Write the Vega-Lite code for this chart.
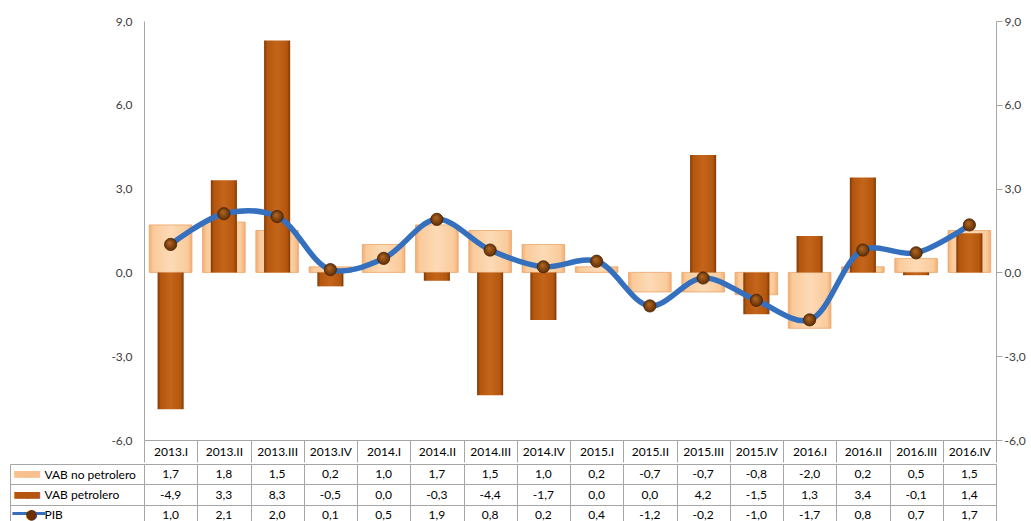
{
  "$schema": "https://vega.github.io/schema/vega-lite/v6.json",
  "padding": {"left": 9, "top": 15, "right": 5, "bottom": 0},
  "spacing": 0,
  "config": {
    "view": {"stroke": null},
    "font": "Lato",
    "locale": {"number": {"decimal": ",", "thousands": ".", "grouping": [3], "currency": ["", ""], "minus": "-"}},
    "axis": {"labelFont": "Lato", "labelFontSize": 11, "labelColor": "#404040", "domainColor": "#A6A6A6", "tickColor": "#A6A6A6", "gridColor": "#A6A6A6"}
  },
  "data": {"values": [
    {"q": "2013.I", "nopet": 1.7, "pet": -4.9, "pib": 1.0},
    {"q": "2013.II", "nopet": 1.8, "pet": 3.3, "pib": 2.1},
    {"q": "2013.III", "nopet": 1.5, "pet": 8.3, "pib": 2.0},
    {"q": "2013.IV", "nopet": 0.2, "pet": -0.5, "pib": 0.1},
    {"q": "2014.I", "nopet": 1.0, "pet": 0.0, "pib": 0.5},
    {"q": "2014.II", "nopet": 1.7, "pet": -0.3, "pib": 1.9},
    {"q": "2014.III", "nopet": 1.5, "pet": -4.4, "pib": 0.8},
    {"q": "2014.IV", "nopet": 1.0, "pet": -1.7, "pib": 0.2},
    {"q": "2015.I", "nopet": 0.2, "pet": 0.0, "pib": 0.4},
    {"q": "2015.II", "nopet": -0.7, "pet": 0.0, "pib": -1.2},
    {"q": "2015.III", "nopet": -0.7, "pet": 4.2, "pib": -0.2},
    {"q": "2015.IV", "nopet": -0.8, "pet": -1.5, "pib": -1.0},
    {"q": "2016.I", "nopet": -2.0, "pet": 1.3, "pib": -1.7},
    {"q": "2016.II", "nopet": 0.2, "pet": 3.4, "pib": 0.8},
    {"q": "2016.III", "nopet": 0.5, "pet": -0.1, "pib": 0.7},
    {"q": "2016.IV", "nopet": 1.5, "pet": 1.4, "pib": 1.7}
  ]},
  "vconcat": [
    {
      "width": 852,
      "height": 419,
      "layer": [
        {
          "encoding": {
            "x": {"field": "q", "type": "ordinal", "sort": null, "scale": {"type": "band", "paddingInner": 0, "paddingOuter": 0},
              "axis": {"orient": "bottom", "title": null, "labelAngle": 0, "tickBand": "extent", "tickSize": 22, "labelPadding": -11, "labelBaseline": "middle", "labelColor": "#000000", "labelFontSize": 12}}
          },
          "layer": [
            {
              "mark": {"type": "rule", "color": "#BFBFBF", "strokeWidth": 1},
              "encoding": {"y": {"datum": 0, "type": "quantitative", "scale": {"domain": [-6, 9], "nice": false, "zero": false},
                "axis": {"orient": "left", "title": null, "values": [-6, -3, 0, 3, 6, 9], "format": ".1f", "ticks": false, "labelPadding": 12, "labelFontSize": 12}}}
            },
            {
              "mark": {"type": "bar", "width": {"band": 0.8}, "stroke": "#EBA468", "strokeWidth": 0.8,
                "fill": {"gradient": "linear", "x1": 0, "x2": 1, "y1": 0, "y2": 0, "stops": [
                  {"offset": 0, "color": "#F2AE74"}, {"offset": 0.1, "color": "#FACB9B"}, {"offset": 0.5, "color": "#FDDAB6"}, {"offset": 0.9, "color": "#FACB9B"}, {"offset": 1, "color": "#F2AE74"}]}},
              "encoding": {"y": {"field": "nopet", "type": "quantitative"}}
            },
            {
              "mark": {"type": "bar", "width": {"band": 0.49}, "strokeWidth": 0,
                "fill": {"gradient": "linear", "x1": 0, "x2": 1, "y1": 0, "y2": 0, "stops": [
                  {"offset": 0, "color": "#7E3A06"}, {"offset": 0.12, "color": "#B5560F"}, {"offset": 0.5, "color": "#C4651A"}, {"offset": 0.88, "color": "#B5560F"}, {"offset": 1, "color": "#7E3A06"}]}},
              "encoding": {"y": {"field": "pet", "type": "quantitative"}}
            },
            {
              "mark": {"type": "line", "interpolate": "catmull-rom", "color": "#3470BD", "strokeWidth": 5.5},
              "encoding": {"y": {"field": "pib", "type": "quantitative"}}
            },
            {
              "mark": {"type": "point", "filled": true, "size": 150, "opacity": 1, "stroke": "#4A2000", "strokeWidth": 0.8,
                "fill": {"gradient": "radial", "x1": 0.4, "y1": 0.35, "r1": 0, "x2": 0.5, "y2": 0.5, "r2": 0.55, "stops": [
                  {"offset": 0, "color": "#B56A25"}, {"offset": 1, "color": "#5A2A02"}]}},
              "encoding": {"y": {"field": "pib", "type": "quantitative"}}
            }
          ]
        },
        {
          "mark": {"type": "point", "opacity": 0},
          "encoding": {
            "x": {"field": "q", "type": "ordinal", "sort": null, "scale": {"type": "band", "paddingInner": 0, "paddingOuter": 0}},
            "y": {"field": "pib", "type": "quantitative", "scale": {"domain": [-6, 9], "nice": false, "zero": false},
              "axis": {"orient": "right", "title": null, "values": [-6, -3, 0, 3, 6, 9], "format": ".1f", "ticks": true, "tickSize": 6, "labelPadding": 2, "labelFontSize": 12}}
          }
        }
      ],
      "resolve": {"scale": {"y": "independent"}, "axis": {"y": "independent"}}
    },
    {
      "width": 852,
      "height": 61,
      "transform": [{"fold": ["nopet", "pet", "pib"], "as": ["serie", "v"]}],
      "layer": [
        {
          "mark": {"type": "text", "fontSize": 12, "font": "Lato", "color": "#000000"},
          "encoding": {
            "x": {"field": "q", "type": "ordinal", "sort": null, "scale": {"type": "band", "paddingInner": 0, "paddingOuter": 0},
              "axis": {"title": null, "labels": false, "ticks": false, "domain": false, "grid": true, "tickBand": "extent"}},
            "y": {"field": "serie", "type": "ordinal", "sort": ["nopet", "pet", "pib"], "scale": {"type": "band", "paddingInner": 0, "paddingOuter": 0},
              "axis": {"orient": "left", "title": null, "grid": true, "tickBand": "extent", "tickSize": 134, "labelAlign": "left", "labelPadding": -34,
                "labelColor": "#000000",
                "labelFontSize": {"condition": {"test": "isValid(datum.value)", "value": 12}, "value": 0},
                "labelExpr": "datum.value == 'nopet' ? 'VAB no petrolero' : datum.value == 'pet' ? 'VAB petrolero' : datum.value == 'pib' ? 'PIB' : ''"}},
            "text": {"field": "v", "type": "quantitative", "format": ".1f"}
          }
        },
        {
          "mark": {"type": "point", "opacity": 0},
          "encoding": {
            "x": {"field": "q", "type": "ordinal", "sort": null, "scale": {"type": "band", "paddingInner": 0, "paddingOuter": 0}},
            "y": {"field": "serie", "type": "ordinal", "sort": ["nopet", "pet", "pib"], "scale": {"type": "band", "paddingInner": 0, "paddingOuter": 0},
              "axis": {"orient": "left", "title": null, "offset": 134, "ticks": false, "grid": false, "domain": true, "labelAlign": "left", "labelPadding": -2,
                "labelFont": "DejaVu Sans", "labelFontSize": 18,
                "labelColor": {"condition": [{"test": "datum.value == 'nopet'", "value": "#F7C08C"}, {"test": "datum.value == 'pet'", "value": "#B4560F"}], "value": "#3470BD"},
                "labelExpr": "datum.value == 'pib' ? '━━━' : (datum.value == 'nopet' || datum.value == 'pet') ? '▬' : ''"}}
          }
        },
        {
          "mark": {"type": "point", "opacity": 0},
          "encoding": {
            "x": {"field": "q", "type": "ordinal", "sort": null, "scale": {"type": "band", "paddingInner": 0, "paddingOuter": 0}},
            "y": {"field": "serie", "type": "ordinal", "sort": ["nopet", "pet", "pib"], "scale": {"type": "band", "paddingInner": 0, "paddingOuter": 0},
              "axis": {"orient": "left", "title": null, "offset": 134, "ticks": false, "grid": false, "domain": false, "labelAlign": "left", "labelPadding": -14,
                "labelFont": "DejaVu Sans", "labelFontSize": 18,
                "labelColor": {"condition": [{"test": "datum.value == 'nopet'", "value": "#F7C08C"}], "value": "#B4560F"},
                "labelExpr": "(datum.value == 'nopet' || datum.value == 'pet') ? '▬' : ''"}}
          }
        },
        {
          "mark": {"type": "point", "opacity": 0},
          "encoding": {
            "x": {"field": "q", "type": "ordinal", "sort": null, "scale": {"type": "band", "paddingInner": 0, "paddingOuter": 0}},
            "y": {"field": "serie", "type": "ordinal", "sort": ["nopet", "pet", "pib"], "scale": {"type": "band", "paddingInner": 0, "paddingOuter": 0},
              "axis": {"orient": "left", "title": null, "offset": 134, "ticks": false, "grid": false, "domain": false, "labelAlign": "left", "labelPadding": -15,
                "labelFont": "DejaVu Sans", "labelFontSize": 14, "labelColor": "#6A3004",
                "labelExpr": "datum.value == 'pib' ? '●' : ''"}}
          }
        }
      ],
      "resolve": {"scale": {"y": "independent"}, "axis": {"y": "independent"}}
    }
  ]
}
